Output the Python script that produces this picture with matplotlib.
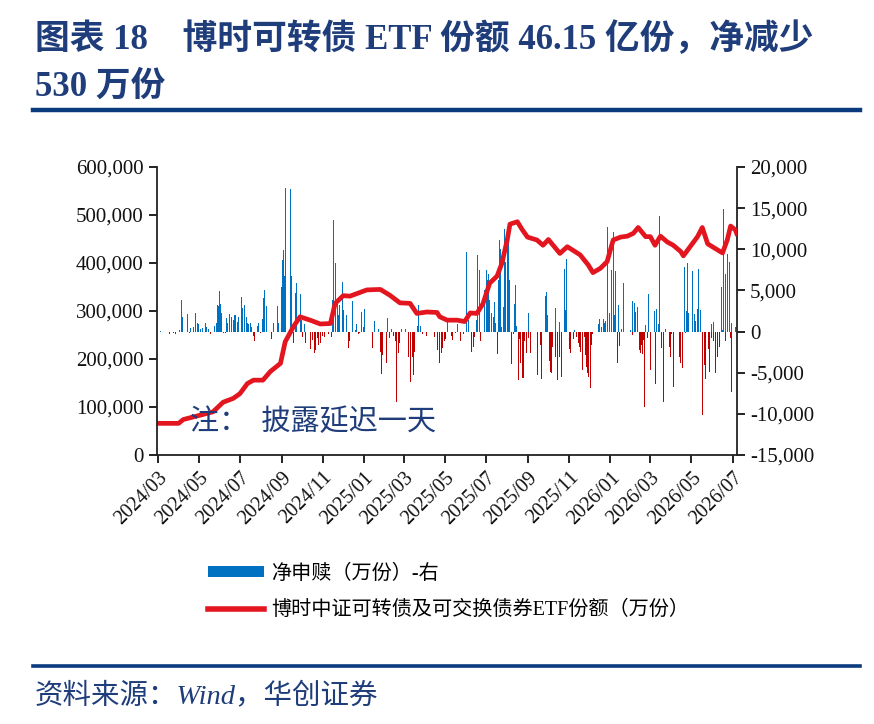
import matplotlib
matplotlib.use("Agg")
import matplotlib.pyplot as plt
import matplotlib.dates as mdates
from matplotlib.ticker import FuncFormatter, MultipleLocator
from matplotlib.patches import Patch
from matplotlib.lines import Line2D
import pandas as pd
import numpy as np

plt.rcParams['font.family'] = ['Liberation Serif', 'Noto Sans CJK SC', 'DejaVu Sans']
plt.rcParams['axes.unicode_minus'] = False

NAVY = '#1F3D7A'
RULE = '#0B3A7E'
BLUE = '#0070C0'
DARK_RED = '#C00000'
LINE_RED = '#E3161F'

TITLE_1 = "图表 18　博时可转债 ETF 份额 46.15 亿份，净减少"
TITLE_2 = "530 万份"
NOTE = "注：  披露延迟一天"
SOURCE = "资料来源：Wind，华创证券"
BAR_LABEL = "净申赎（万份）-右"
LINE_LABEL = "博时中证可转债及可交换债券ETF份额（万份）"

# ETF shares (万份), left axis
line_dates = [
    "2024-03-01", "2024-04-01", "2024-04-08", "2024-05-03", "2024-05-22", "2024-06-06",
    "2024-06-21", "2024-07-01", "2024-07-12", "2024-07-21", "2024-08-04", "2024-08-15",
    "2024-08-30", "2024-09-06", "2024-09-18", "2024-09-28", "2024-10-13", "2024-10-28",
    "2024-11-12", "2024-11-19", "2024-12-01", "2024-12-11", "2025-01-05", "2025-01-25",
    "2025-02-08", "2025-02-23", "2025-03-10", "2025-03-20", "2025-04-04", "2025-04-19",
    "2025-04-23", "2025-05-04", "2025-05-19", "2025-05-30", "2025-06-07", "2025-06-17",
    "2025-06-26", "2025-07-06", "2025-07-17", "2025-07-24", "2025-08-01", "2025-08-05",
    "2025-08-16", "2025-08-23", "2025-08-31", "2025-09-14", "2025-09-23", "2025-10-01",
    "2025-10-08", "2025-10-18", "2025-10-29", "2025-11-07", "2025-11-17", "2025-11-29",
    "2025-12-06", "2025-12-17", "2025-12-27", "2026-01-05", "2026-01-16", "2026-01-26",
    "2026-02-04", "2026-02-11", "2026-02-22", "2026-03-01", "2026-03-08", "2026-03-16",
    "2026-03-26", "2026-04-04", "2026-04-15", "2026-04-19", "2026-04-29", "2026-05-10",
    "2026-05-17", "2026-05-25", "2026-06-02", "2026-06-16", "2026-06-23", "2026-06-28",
    "2026-07-05", "2026-07-07",
]
line_values = [
    66000, 66000, 74000, 83000, 90000, 110000,
    118000, 128000, 149000, 156000, 156000, 174000,
    191000, 236000, 267000, 288000, 281000, 273000,
    274000, 316000, 332000, 331000, 344000, 345000,
    333000, 317000, 316000, 295000, 298000, 297000,
    288000, 281000, 281000, 278000, 296000, 295000,
    315000, 358000, 373000, 399000, 448000, 481000,
    486000, 470000, 454000, 448000, 437000, 449000,
    437000, 420000, 434000, 426000, 417000, 396000,
    380000, 389000, 403000, 448000, 454000, 456000,
    462000, 474000, 455000, 455000, 437000, 456000,
    444000, 437000, 424000, 415000, 434000, 455000,
    474000, 440000, 433000, 421000, 448000, 477000,
    469000, 461500,
]

# net subscription / redemption (万份), right axis
bar_dates_2024 = [
    "2024-03-05", "2024-03-18", "2024-03-25", "2024-03-28", "2024-04-02", "2024-04-06",
    "2024-04-07", "2024-04-12", "2024-04-14", "2024-04-17", "2024-04-19", "2024-04-23",
    "2024-04-26", "2024-04-29", "2024-05-01", "2024-05-04", "2024-05-07", "2024-05-11",
    "2024-05-13", "2024-05-16", "2024-05-19", "2024-05-22", "2024-05-24", "2024-05-27",
    "2024-05-28", "2024-05-30", "2024-06-01", "2024-06-02", "2024-06-04", "2024-06-06",
    "2024-06-09", "2024-06-11", "2024-06-13", "2024-06-16", "2024-06-18", "2024-06-21",
    "2024-06-23", "2024-06-25", "2024-06-27", "2024-06-29", "2024-07-01", "2024-07-03",
    "2024-07-05", "2024-07-07", "2024-07-08", "2024-07-10", "2024-07-12", "2024-07-14",
    "2024-07-16", "2024-07-18", "2024-07-21", "2024-07-23", "2024-07-27", "2024-07-29",
    "2024-08-01", "2024-08-04", "2024-08-05", "2024-08-07", "2024-08-09", "2024-08-10",
    "2024-08-13", "2024-08-17", "2024-08-19", "2024-08-20", "2024-08-25", "2024-08-27",
    "2024-08-31", "2024-09-02", "2024-09-04", "2024-09-05", "2024-09-07", "2024-09-14",
    "2024-09-16", "2024-09-19", "2024-09-21", "2024-09-23", "2024-09-25", "2024-09-28",
    "2024-09-30", "2024-10-02", "2024-10-04", "2024-10-06", "2024-10-13", "2024-10-16",
    "2024-10-19", "2024-10-21", "2024-10-24", "2024-10-26", "2024-10-29", "2024-10-31",
    "2024-11-03", "2024-11-09", "2024-11-13", "2024-11-15", "2024-11-17", "2024-11-19",
    "2024-11-20", "2024-11-22", "2024-11-24", "2024-11-26", "2024-11-30", "2024-12-01",
    "2024-12-06", "2024-12-09", "2024-12-10", "2024-12-14", "2024-12-15", "2024-12-19",
    "2024-12-21", "2024-12-24", "2024-12-25", "2024-12-28", "2024-12-31",
]
bar_values_2024 = [
    100, -280, -200, -280, 200, 3850,
    1800, 600, 2100, -150, 400, 600,
    2200, 1000, 900, 280, 400, 1000,
    500, 300, -280, 600, 700, 1000,
    3200, 3100, 4900, 3400, 2200, -150,
    -150, 1600, 1100, 2100, 1800, 1400,
    2000, 2000, 1200, 1800, 5050, 4250,
    2850, 2200, 3250, 1800, 1000, 900,
    1100, 600, -500, -1100, 700, 1100,
    -150, 1500, 4050, 5000, 3100, 1800,
    2600, -930, 700, 1000, 3100, 1000,
    5450, 8700, 9900, 6700, 17400, 17300,
    6800, -1340, 4650, 5950, 3250, 4550,
    1400, -600, 900, -1420, -2150, -1000,
    -2550, -2230, -800, -1620, -1420, -500,
    -600, -280, -600, 3850, 13570, 8380,
    6500, 3360, 2000, 3250, 6080, 2630,
    2000, -2000, -1200, 600, 3700, 200,
    900, -280, -150, 2350, 600,
]
bar_dates_2025 = [
    "2025-01-02", "2025-01-13", "2025-01-17", "2025-01-20", "2025-01-22", "2025-01-25",
    "2025-01-26", "2025-01-28", "2025-02-03", "2025-02-05", "2025-02-08", "2025-02-11",
    "2025-02-14", "2025-02-16", "2025-02-18", "2025-02-21", "2025-02-22", "2025-02-26",
    "2025-03-03", "2025-03-08", "2025-03-11", "2025-03-13", "2025-03-15", "2025-03-17",
    "2025-03-21", "2025-03-23", "2025-03-26", "2025-03-29", "2025-04-04", "2025-04-13",
    "2025-04-15", "2025-04-20", "2025-04-23", "2025-04-25", "2025-04-27", "2025-04-30",
    "2025-05-02", "2025-05-05", "2025-05-10", "2025-05-12", "2025-05-16", "2025-05-20",
    "2025-05-24", "2025-05-28", "2025-06-01", "2025-06-02", "2025-06-04", "2025-06-09",
    "2025-06-12", "2025-06-14", "2025-06-17", "2025-06-18", "2025-06-21", "2025-06-23",
    "2025-06-28", "2025-06-29", "2025-07-01", "2025-07-03", "2025-07-04", "2025-07-06",
    "2025-07-08", "2025-07-11", "2025-07-13", "2025-07-15", "2025-07-17", "2025-07-19",
    "2025-07-21", "2025-07-22", "2025-07-23", "2025-07-26", "2025-07-28", "2025-07-29",
    "2025-07-30", "2025-08-01", "2025-08-03", "2025-08-05", "2025-08-08", "2025-08-10",
    "2025-08-12", "2025-08-13", "2025-08-15", "2025-08-17", "2025-08-18", "2025-08-19",
    "2025-08-21", "2025-08-23", "2025-08-24", "2025-08-25", "2025-08-27", "2025-08-29",
    "2025-09-01", "2025-09-02", "2025-09-05", "2025-09-15", "2025-09-19", "2025-09-21",
    "2025-09-23", "2025-09-26", "2025-09-28", "2025-09-29", "2025-10-02", "2025-10-04",
    "2025-10-06", "2025-10-07", "2025-10-11", "2025-10-12", "2025-10-14", "2025-10-17",
    "2025-10-18", "2025-10-20", "2025-10-21", "2025-10-25", "2025-10-26", "2025-10-28",
    "2025-10-30", "2025-11-01", "2025-11-03", "2025-11-05", "2025-11-07", "2025-11-09",
    "2025-11-12", "2025-11-14", "2025-11-16", "2025-11-18", "2025-11-21", "2025-11-23",
    "2025-11-25", "2025-11-27", "2025-11-28", "2025-11-30", "2025-12-02", "2025-12-04",
    "2025-12-06", "2025-12-12", "2025-12-14", "2025-12-16", "2025-12-19", "2025-12-21",
    "2025-12-23", "2025-12-25", "2025-12-27", "2025-12-30",
]
bar_values_2025 = [
    2800, -2000, 1340, 400, 300, -2430,
    -5140, -2830, -3770, 1600, -800, 300,
    -500, -1200, -8600, -2630, -1420, 300,
    300, -3040, -6080, -3040, -5270, -2430,
    720, 3240, 720, -280, -500, 500,
    -600, -2230, -3850, -2630, -2000, -1200,
    -930, 1200, -520, -1000, -200, 920,
    -1100, -280, 3700, 9720, 1400, -2430,
    -1900, -600, 1400, 9300, 7500, -1130,
    1000, 5060, 7500, 6300, 7000, 3850,
    2230, 1740, 3650, 1000, -2700, 6280,
    11140, 10000, 600, 3040, 12430, 4250,
    8500, 10940, 11950, 6280, -3930, -280,
    3360, 5670, 700, -800, -5870, -850,
    -3770, -5670, -3770, -5670, -1200, -2630,
    2230, -800, -2550, -5270, -1620, -5750,
    2030, 4330, 4860, 2030, -3520, -4860,
    -5060, -1820, 2830, -3040, -5870, -3040,
    1200, -5470, -1420, 7570, 2630, 8790,
    -4250, -2150, -2630, -700, -930, 200,
    -600, -1420, -1820, -2430, -4660, -600,
    -2830, -4330, -4980, -5470, -6880, -1620,
    -280, 5870, 920, 1500, 600, 1500,
    1000, 1340, 12680, 2230,
]
bar_dates_2026 = [
    "2026-01-02", "2026-01-03", "2026-01-05", "2026-01-07", "2026-01-09", "2026-01-11",
    "2026-01-13", "2026-01-15", "2026-01-17", "2026-01-20", "2026-01-31", "2026-02-02",
    "2026-02-03", "2026-02-05", "2026-02-07", "2026-02-10", "2026-02-13", "2026-02-14",
    "2026-02-16", "2026-02-17", "2026-02-19", "2026-02-20", "2026-02-22", "2026-02-25",
    "2026-02-27", "2026-03-01", "2026-03-02", "2026-03-05", "2026-03-07", "2026-03-08",
    "2026-03-10", "2026-03-13", "2026-03-14", "2026-03-15", "2026-03-17", "2026-03-20",
    "2026-03-21", "2026-03-24", "2026-03-29", "2026-03-31", "2026-04-02", "2026-04-05",
    "2026-04-11", "2026-04-13", "2026-04-15", "2026-04-17", "2026-04-20", "2026-04-22",
    "2026-04-24", "2026-04-25", "2026-04-26", "2026-05-02", "2026-05-03", "2026-05-05",
    "2026-05-07", "2026-05-10", "2026-05-11", "2026-05-12", "2026-05-14", "2026-05-17",
    "2026-05-18", "2026-05-20", "2026-05-22", "2026-05-24", "2026-05-26", "2026-05-28",
    "2026-05-30", "2026-05-31", "2026-06-02", "2026-06-03", "2026-06-05", "2026-06-06",
    "2026-06-08", "2026-06-09", "2026-06-11", "2026-06-14", "2026-06-16", "2026-06-18",
    "2026-06-20", "2026-06-21", "2026-06-23", "2026-06-26", "2026-06-28", "2026-06-29",
    "2026-06-30", "2026-07-03", "2026-07-05",
]
bar_values_2026 = [
    7500, 6480, 12150, 2030, 7400, -3770,
    3240, -1740, 280, 5870, 200, -400,
    3770, 3520, 2430, 2960, -2230, -2550,
    -1620, -2700, -1000, -9110, 800, -800,
    4580, -4660, -8300, -280, 2510, -6360,
    2710, 900, 14050, 5060, -2030, -8500,
    -5140, 300, -1900, -3040, -280, -6760,
    -600, -3040, -3770, -4370, 7820, -200,
    2510, 8380, 2230, 7410, 3440, 2150,
    1340, 2710, 7570, 7500, 2630, -2430,
    -10120, -4050, -5790, -6760, -2150, -4860,
    920, -800, 1200, -1200, -2230, -4980,
    -3040, -1620, -1820, 5390, 200, 14860,
    7000, -1200, 9440, 8500, -800, 1100,
    -7290, -6360, 600,
]

bars = pd.DataFrame({
    "date": pd.to_datetime(bar_dates_2024 + bar_dates_2025 + bar_dates_2026),
    "value": bar_values_2024 + bar_values_2025 + bar_values_2026,
})
shares = pd.Series(line_values, index=pd.to_datetime(line_dates))

fig = plt.figure(figsize=(8.74, 7.24), dpi=100)
ax = fig.add_axes([0.1796, 0.3715, 0.6633, 0.3978])
ax2 = ax.twinx()

colors = np.where(bars["value"] >= 0, BLUE, DARK_RED)
ax2.bar(bars["date"], bars["value"], width=1.4, color=colors, linewidth=0)
ax.plot(shares.index, shares.values, color=LINE_RED, lw=3.4, solid_joinstyle='round')

ax.set_zorder(ax2.get_zorder() + 1)
ax.patch.set_visible(False)

ax.set_ylim(0, 600000)
ax.yaxis.set_major_locator(MultipleLocator(100000))
ax2.set_ylim(-15000, 20000)
ax2.yaxis.set_major_locator(MultipleLocator(5000))
fmt = FuncFormatter(lambda v, p: f"{v:,.0f}")
ax.yaxis.set_major_formatter(fmt)
ax2.yaxis.set_major_formatter(fmt)

ax.set_xlim(pd.Timestamp("2024-02-29"), pd.Timestamp("2026-07-07"))
ax.xaxis.set_major_locator(mdates.MonthLocator(bymonth=[1, 3, 5, 7, 9, 11]))
ax.xaxis.set_major_formatter(mdates.DateFormatter("%Y/%m"))

for a in (ax, ax2):
    a.spines['top'].set_visible(False)
    for s in a.spines.values():
        s.set_linewidth(1.3)
        s.set_color('#222222')
    a.tick_params(direction='out', length=6, width=1.3, labelsize=15, colors='#111111')
ax2.spines['left'].set_visible(False)
ax2.spines['bottom'].set_visible(False)
ax.spines['right'].set_visible(False)
ax.tick_params(axis='x', labelsize=14.5)

for lab in ax.get_xticklabels():
    lab.set_rotation(45)
    lab.set_ha('right')
    lab.set_va('top')
    lab.set_rotation_mode('anchor')

ax.text(0.057, 0.115, NOTE, transform=ax.transAxes, fontsize=21, color=NAVY,
        va='center', ha='left', family=['Noto Sans CJK SC'])

fig.text(0.040, 0.945, TITLE_1, fontsize=25, fontweight='bold', color=NAVY, va='center')
fig.text(0.040, 0.880, TITLE_2, fontsize=25, fontweight='bold', color=NAVY, va='center')
fig.add_artist(Line2D([0.038, 0.984], [0.848, 0.848], color=RULE, lw=3.2,
                      transform=fig.transFigure))
fig.add_artist(Line2D([0.038, 0.984], [0.080, 0.080], color=RULE, lw=2.6,
                      transform=fig.transFigure))
fig.text(0.040, 0.037, SOURCE, fontsize=20.5, color=NAVY, style='italic', va='center')

handles = [Patch(facecolor=BLUE, edgecolor='none'),
           Line2D([0], [0], color=LINE_RED, lw=4)]
fig.legend(handles, [BAR_LABEL, LINE_LABEL], loc='upper left',
           bbox_to_anchor=(0.217, 0.245), frameon=False, fontsize=14.5,
           handlelength=2.8, handleheight=0.45, labelspacing=0.85, handletextpad=0.35)

fig.savefig("out.png", dpi=100)
